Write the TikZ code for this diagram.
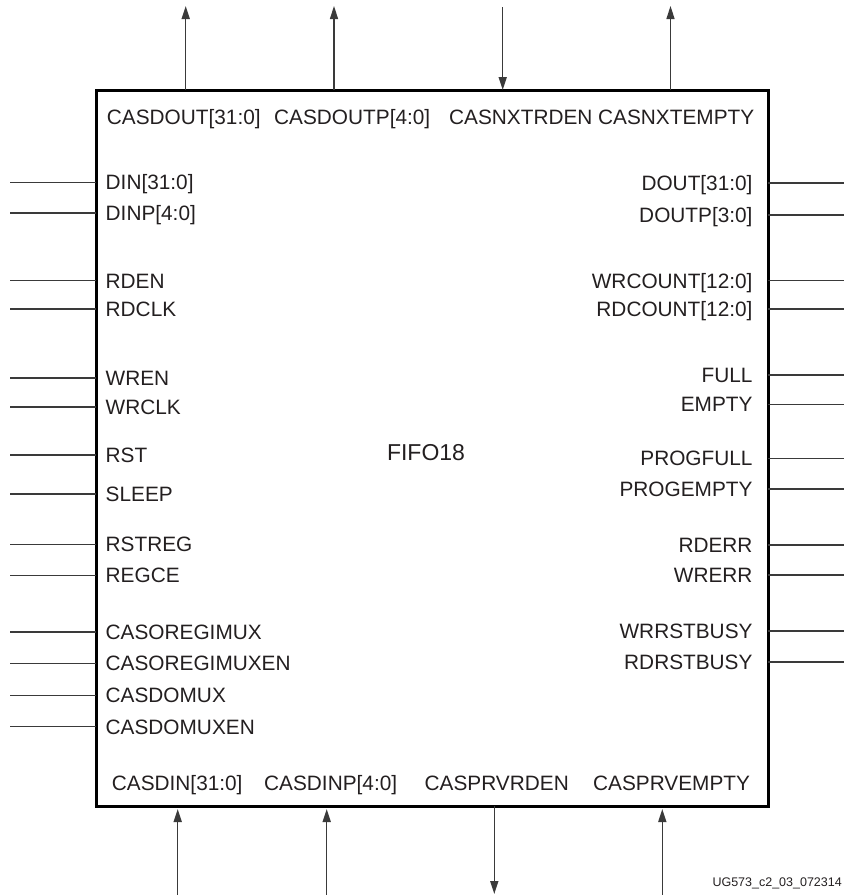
\documentclass[tikz,border=0pt]{standalone}
\usepackage{fontspec}
\setmainfont{Liberation Sans}
\usetikzlibrary{arrows.meta}
\definecolor{ink}{HTML}{231F20}
\definecolor{wire}{HTML}{3A3A3A}
\begin{document}
\begin{tikzpicture}[x=1pt,y=-1pt,
  pinlbl/.style={inner sep=0pt, text height=14.9pt, text depth=0pt,
    font=\fontsize{20.8}{24}\selectfont, text=ink},
  pinwire/.style={draw=wire, line width=1.3pt},
  sigarrow/.style={draw=wire, line width=1.5pt,
    -{Triangle[length=13pt,width=8pt]}},
  blockbox/.style={draw=black, line width=3pt, inner sep=0pt, outer sep=0pt,
    minimum width=672pt, minimum height=716pt}
  ]
\useasboundingbox (0,0) rectangle (844,895);

% the FIFO18 primitive body
\node[blockbox] (fifo) at (432,448) {};
\node[pinlbl, text height=16pt, font=\fontsize{23}{26}\selectfont] (title) at (426,452) {FIFO18};

% left-hand input pins
\foreach \pid/\txt/\y in {
    din/{DIN[31:0]}/182.5, dinp/{DINP[4:0]}/213,
    rden/{RDEN}/280.7, rdclk/{RDCLK}/309,
    wren/{WREN}/378, wrclk/{WRCLK}/407,
    rst/{RST}/455, sleep/{SLEEP}/494,
    rstreg/{RSTREG}/544.5, regce/{REGCE}/575.5,
    casoregimux/{CASOREGIMUX}/632, casoregimuxen/{CASOREGIMUXEN}/663.3,
    casdomux/{CASDOMUX}/695.3, casdomuxen/{CASDOMUXEN}/726.7} {
  \coordinate (in-\pid) at (10,\y);
  \node[pinlbl, anchor=west] (lbl-\pid) at (105.5,\y) {\txt};
  \draw[pinwire] (in-\pid) -- (in-\pid -| fifo.west);
}

% right-hand output pins
\foreach \pid/\txt/\y in {
    dout/{DOUT[31:0]}/183, doutp/{DOUTP[3:0]}/215,
    wrcount/{WRCOUNT[12:0]}/280.7, rdcount/{RDCOUNT[12:0]}/309,
    full/{FULL}/375, empty/{EMPTY}/404.5,
    progfull/{PROGFULL}/458.5, progempty/{PROGEMPTY}/489,
    rderr/{RDERR}/545, wrerr/{WRERR}/575,
    wrrstbusy/{WRRSTBUSY}/631, rdrstbusy/{RDRSTBUSY}/662} {
  \coordinate (out-\pid) at (846,\y);
  \node[pinlbl, anchor=east] (lbl-\pid) at (752.7,\y) {\txt};
  \draw[pinwire] (out-\pid -| fifo.east) -- (out-\pid);
}

% cascade ports along the top edge
\node[pinlbl, anchor=west] (lbl-casdout)   at (106.7,117) {CASDOUT[31:0]};
\node[pinlbl, anchor=west] (lbl-casdoutp)  at (274,117)   {CASDOUTP[4:0]};
\node[pinlbl, anchor=west] (lbl-casnxtrden) at (449,117)  {CASNXTRDEN};
\node[pinlbl, anchor=west] (lbl-casnxtempty) at (598,117) {CASNXTEMPTY};
\coordinate (t-casdout) at (185.7,6);
\coordinate (t-casdoutp) at (334,6);
\coordinate (t-casnxtrden) at (502.7,7);
\coordinate (t-casnxtempty) at (670.5,6);
\draw[sigarrow] (t-casdout |- fifo.north) -- (t-casdout);
\draw[sigarrow] (t-casdoutp |- fifo.north) -- (t-casdoutp);
\draw[sigarrow] (t-casnxtrden) -- (t-casnxtrden |- fifo.north);
\draw[sigarrow] (t-casnxtempty |- fifo.north) -- (t-casnxtempty);

% cascade ports along the bottom edge
\node[pinlbl, anchor=west] (lbl-casdin)   at (111.7,783.5) {CASDIN[31:0]};
\node[pinlbl, anchor=west] (lbl-casdinp)  at (264,783.5)   {CASDINP[4:0]};
\node[pinlbl, anchor=west] (lbl-casprvrden) at (424.5,783.5) {CASPRVRDEN};
\node[pinlbl, anchor=west] (lbl-casprvempty) at (593,783.5) {CASPRVEMPTY};
\coordinate (b-casdin) at (177.7,897);
\coordinate (b-casdinp) at (326.7,897);
\coordinate (b-casprvrden) at (494.3,894);
\coordinate (b-casprvempty) at (662.3,897);
\draw[sigarrow, shorten >=3pt] (b-casdin) -- (b-casdin |- fifo.south);
\draw[sigarrow, shorten >=3pt] (b-casdinp) -- (b-casdinp |- fifo.south);
\draw[sigarrow] (b-casprvrden |- fifo.south) -- (b-casprvrden);
\draw[sigarrow, shorten >=3pt] (b-casprvempty) -- (b-casprvempty |- fifo.south);

% figure tag
\node[inner sep=0pt, text height=9pt, text depth=0pt, anchor=east,
  font=\fontsize{12.5}{14}\selectfont, text=ink] (tag) at (842,882) {UG573\_c2\_03\_072314};
\end{tikzpicture}
\end{document}
